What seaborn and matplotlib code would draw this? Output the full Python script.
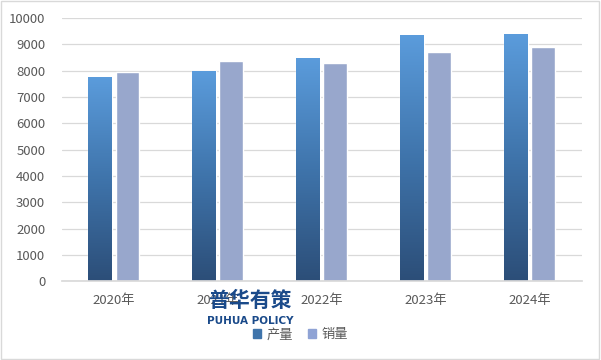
import matplotlib
matplotlib.use('Agg')
import matplotlib.pyplot as plt
from matplotlib.colors import LinearSegmentedColormap
from matplotlib.patches import Rectangle
import seaborn as sns
import pandas as pd
import numpy as np

years = ['2020年', '2021年', '2022年', '2023年', '2024年']
production = [7755, 7980, 8475, 9350, 9390]
sales = [7945, 8360, 8285, 8700, 8890]
series = ['产量', '销量']
colors = ['#4a86c5', '#8fa3d5']

sns.set_theme(style='white')
plt.rcParams['font.family'] = ['Noto Sans CJK SC', 'DejaVu Sans']

df = pd.DataFrame({
    'year': years * 2,
    'series': [series[0]] * len(years) + [series[1]] * len(years),
    'value': production + sales,
})

fig = plt.figure(figsize=(6.01, 3.6), dpi=100)
ax = fig.add_axes([0.103, 0.219, 0.865, 0.731])

sns.barplot(data=df, x='year', y='value', hue='series', palette=colors,
            width=0.52, gap=0.12, ax=ax, legend=False)

# gradient fill for the production bars
cmap = LinearSegmentedColormap.from_list('prod', ['#2c4e78', '#3f74ab', '#5b9cdc'])
grad = np.linspace(0, 1, 256).reshape(-1, 1)
for bar in ax.containers[0]:
    x0, y0 = bar.get_x(), bar.get_y()
    w, h = bar.get_width(), bar.get_height()
    im = ax.imshow(grad, cmap=cmap, origin='lower', aspect='auto',
                   extent=[x0, x0 + w, y0, y0 + h], zorder=bar.get_zorder())
    im.set_clip_path(bar)
    bar.set_facecolor('none')

ax.set_xlim(-0.5, 4.5)
ax.set_ylim(0, 10000)
ax.set_yticks(range(0, 10001, 1000))
ax.set_xlabel('')
ax.set_ylabel('')
ax.grid(axis='y', color='#d9d9d9', linewidth=0.9)
ax.set_axisbelow(True)
for s in ['top', 'right', 'left']:
    ax.spines[s].set_visible(False)
ax.spines['bottom'].set_color('#d9d9d9')
ax.tick_params(axis='both', length=0, labelsize=9.5, colors='#595959')
ax.tick_params(axis='y', pad=12)
ax.tick_params(axis='x', pad=9)

# legend
handles = [Rectangle((0, 0), 1, 1, color='#3f74ab'), Rectangle((0, 0), 1, 1, color=colors[1])]
fig.legend(handles, series, loc='center', bbox_to_anchor=(0.5, 0.07), ncol=2,
           frameon=False, fontsize=9.5, handlelength=0.6, handleheight=0.6,
           handletextpad=0.4, columnspacing=1.2, labelcolor='#595959')

# watermark
fig.text(0.416, 0.165, '普华有策', fontsize=15, fontweight='bold', color='#1a4a8a',
         ha='center', va='center')
fig.text(0.416, 0.108, 'PUHUA POLICY', fontsize=7.5, fontweight='bold', color='#1a4a8a',
         ha='center', va='center', family='DejaVu Sans')

fig.patches.append(Rectangle((0.002, 0.003), 0.995, 0.994, transform=fig.transFigure,
                             fill=False, edgecolor='#d9d9d9', linewidth=1))

fig.savefig('out.png', dpi=100)
